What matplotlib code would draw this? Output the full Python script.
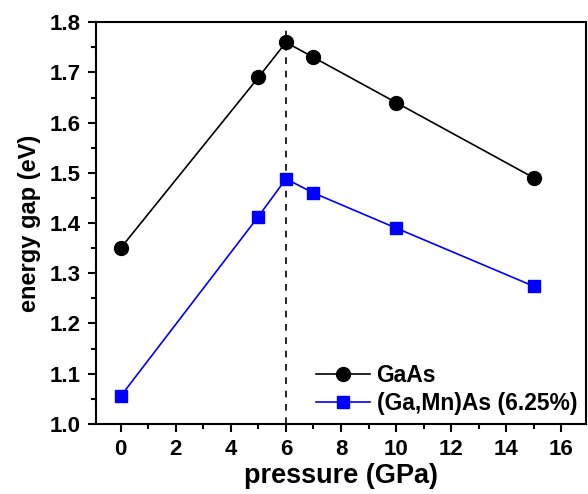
import matplotlib
matplotlib.use("Agg")
import matplotlib.pyplot as plt
from matplotlib.ticker import MultipleLocator, FormatStrFormatter

pressure = [0, 5, 6, 7, 10, 15]
gaas = [1.35, 1.69, 1.76, 1.73, 1.64, 1.49]
gamnas = [1.055, 1.413, 1.488, 1.46, 1.39, 1.274]
labels = ["GaAs", "(Ga,Mn)As (6.25%)"]

plt.rcParams['font.family'] = ['Liberation Sans', 'DejaVu Sans']
plt.rcParams['font.weight'] = 'bold'

fig = plt.figure(figsize=(5.88, 4.94), dpi=100)
ax = fig.add_axes([0.163, 0.142, 0.834, 0.813])

ax.axvline(6, ymax=0.99, color='black', linestyle=(0, (4, 4)), linewidth=1.2, zorder=1)
ax.plot(pressure, gaas, '-o', color='black', markersize=10, linewidth=1.2, label=labels[0], zorder=3)
ax.plot(pressure, gamnas, '-s', color='#0000ff', markersize=8.5, linewidth=1.2, label=labels[1], zorder=3)

ax.set_xlim(-0.9, 16.9)
ax.set_ylim(1.0, 1.8)
ax.xaxis.set_major_locator(MultipleLocator(2))
ax.xaxis.set_minor_locator(MultipleLocator(1))
ax.yaxis.set_major_locator(MultipleLocator(0.1))
ax.yaxis.set_minor_locator(MultipleLocator(0.05))
ax.yaxis.set_major_formatter(FormatStrFormatter('%.1f'))

ax.tick_params(which='major', direction='out', length=6, width=1.5, labelsize=16, pad=5)
ax.tick_params(which='minor', direction='out', length=3.5, width=1.5)
for s in ax.spines.values():
    s.set_linewidth(1.5)

ax.set_xlabel('pressure (GPa)', fontsize=19.5, fontweight='bold', labelpad=2)
ax.set_ylabel('energy gap (eV)', fontsize=17, fontweight='bold', labelpad=6)

leg = ax.legend(loc='lower right', frameon=False, prop={'size': 16.5, 'weight': 'bold'},
                handlelength=2.35, handletextpad=0.3, borderaxespad=0.1,
                borderpad=0.3, labelspacing=0.2)

fig.savefig('out.png', dpi=100)
